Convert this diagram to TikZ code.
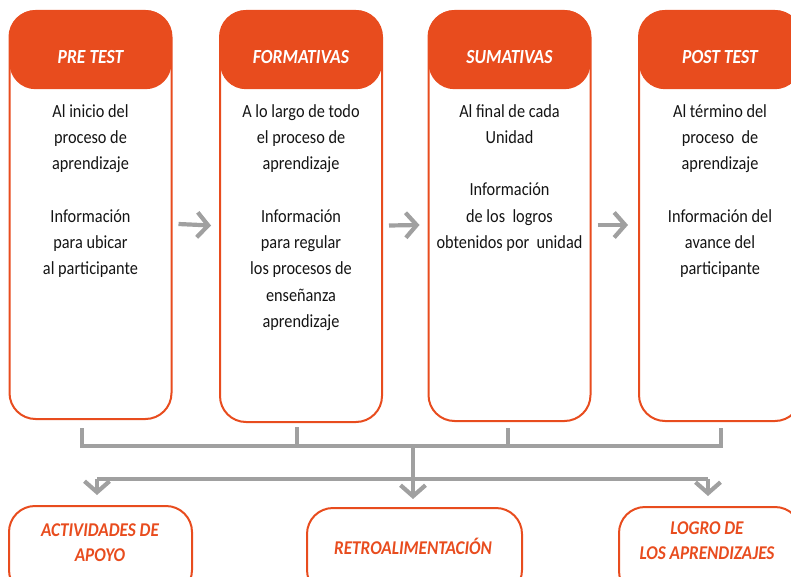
\documentclass[tikz,border=0pt]{standalone}
\usepackage{fontspec}
\setmainfont[FakeStretch=0.88]{Carlito}
\usetikzlibrary{arrows.meta}
\definecolor{orng}{HTML}{E84C1E}
\definecolor{gry}{HTML}{A0A0A0}
\tikzset{
  bigbox/.style={draw=orng, line width=2pt, rounded corners=26pt, minimum width=162pt, inner sep=0pt},
  headbox/.style={fill=orng, rounded corners=26pt, minimum width=162pt, minimum height=79pt, inner sep=0pt, anchor=north},
  headtext/.style={text=white, inner sep=0pt, font=\fontsize{20}{22}\selectfont\bfseries\itshape},
  bodytext/.style={align=center, anchor=north, inner sep=0pt, text=black!92,
     font=\fontsize{18.5}{26.3}\selectfont},
  lowbox/.style={draw=orng, line width=2pt, rounded corners=26pt, inner sep=0pt},
  lowtext/.style={text=orng, inner sep=0pt, align=center, font=\fontsize{19.5}{25}\selectfont\bfseries\itshape},
  gline/.style={draw=gry, line width=4.2pt},
  gtip/.style={-{Straight Barb[length=11pt,width=25pt,line width=4.2pt]}},
}
\begin{document}
\begin{tikzpicture}[x=1pt,y=-1pt]
\useasboundingbox (0,0) rectangle (791,577);
% main boxes
\node[bigbox, minimum height=408pt] (b1) at (90.5,215) {};
\node[bigbox, minimum height=411pt] (b2) at (301,216.5) {};
\node[bigbox, minimum height=410pt] (b3) at (509.5,216) {};
\node[bigbox, minimum height=410pt] (b4) at (720,216) {};
% headers
\node[headbox] (h1) at (b1.north) {};
\node[headbox] (h2) at (b2.north) {};
\node[headbox] (h3) at (b3.north) {};
\node[headbox] (h4) at (b4.north) {};
\node[headtext] (ht1) at ([yshift=-7.5pt]h1.center) {PRE TEST};
\node[headtext] (ht2) at ([yshift=-7.5pt]h2.center) {FORMATIVAS};
\node[headtext] (ht3) at ([yshift=-7.5pt]h3.center) {SUMATIVAS};
\node[headtext] (ht4) at ([yshift=-7.5pt]h4.center) {POST TEST};
% bodies
\node[bodytext] (t1) at (90.5,104) {Al inicio del\\proceso de\\aprendizaje\\[26.3pt]Información\\para ubicar\\al participante};
\node[bodytext] (t2) at (301,104) {A lo largo de todo\\el proceso de\\aprendizaje\\[26.3pt]Información\\para regular\\los procesos de\\enseñanza\\aprendizaje};
\node[bodytext] (t3) at (509.5,104) {Al final de cada\\Unidad\\[26.3pt]Información\\de los\ \ logros\\obtenidos por\ \ unidad};
\node[bodytext] (t4) at (720,104) {Al término del\\proceso\ \ de\\aprendizaje\\[26.3pt]Información del\\avance del\\participante};
% lower boxes
\node[lowbox, minimum width=183pt, minimum height=90pt] (lA) at (100.5,551) {};
\node[lowbox, minimum width=215pt, minimum height=88pt] (lB) at (414.5,552) {};
\node[lowbox, minimum width=182pt, minimum height=90pt] (lC) at (710,552) {};
\node[lowtext] (xA) at (100,543) {ACTIVIDADES DE\\APOYO};
\node[lowtext] (xB) at (413,546) {RETROALIMENTACIÓN};
\node[lowtext] (xC) at (707,541) {LOGRO DE\\LOS APRENDIZAJES};
% arrows between boxes
\draw[gline, gtip] ([xshift=6pt,yshift=-9pt]b1.east) -- ([xshift=-8pt,yshift=-9pt]b2.west);
\draw[gline, gtip] ([xshift=6pt,yshift=-9pt]b2.east) -- ([xshift=-8pt,yshift=-9pt]b3.west);
\draw[gline, gtip] ([xshift=6pt,yshift=-9pt]b3.east) -- ([xshift=-10pt,yshift=-9pt]b4.west);
% collecting bar
\coordinate (bar) at (0,446);
\coordinate (bar2) at (0,479);
\draw[gline] ([xshift=-8.5pt,yshift=-8pt]b1.south) -- ([xshift=-8.5pt]b1.south |- bar) -- ([xshift=1pt]b4.south |- bar) -- ([xshift=1pt,yshift=-6pt]b4.south);
\draw[gline] ([xshift=-4pt,yshift=-4pt]b2.south) -- ([xshift=-4pt]b2.south |- bar);
\draw[gline] ([xshift=-1.5pt,yshift=-6pt]b3.south) -- ([xshift=-1.5pt]b3.south |- bar);
\draw[gline, gtip] ([xshift=-1.5pt]lB.north |- bar) -- ([xshift=-1.5pt,yshift=8pt]lB.north);
\draw[gline, gtip] ([xshift=-3.5pt]lA.north |- bar2) -- ([xshift=-3.5pt,yshift=10pt]lA.north);
\draw[gline, gtip] ([xshift=-2pt]lC.north |- bar2) -- ([xshift=-2pt,yshift=10pt]lC.north);
\draw[gline] ([xshift=-3.5pt]lA.north |- bar2) -- ([xshift=-2pt]lC.north |- bar2);
\end{tikzpicture}
\end{document}
